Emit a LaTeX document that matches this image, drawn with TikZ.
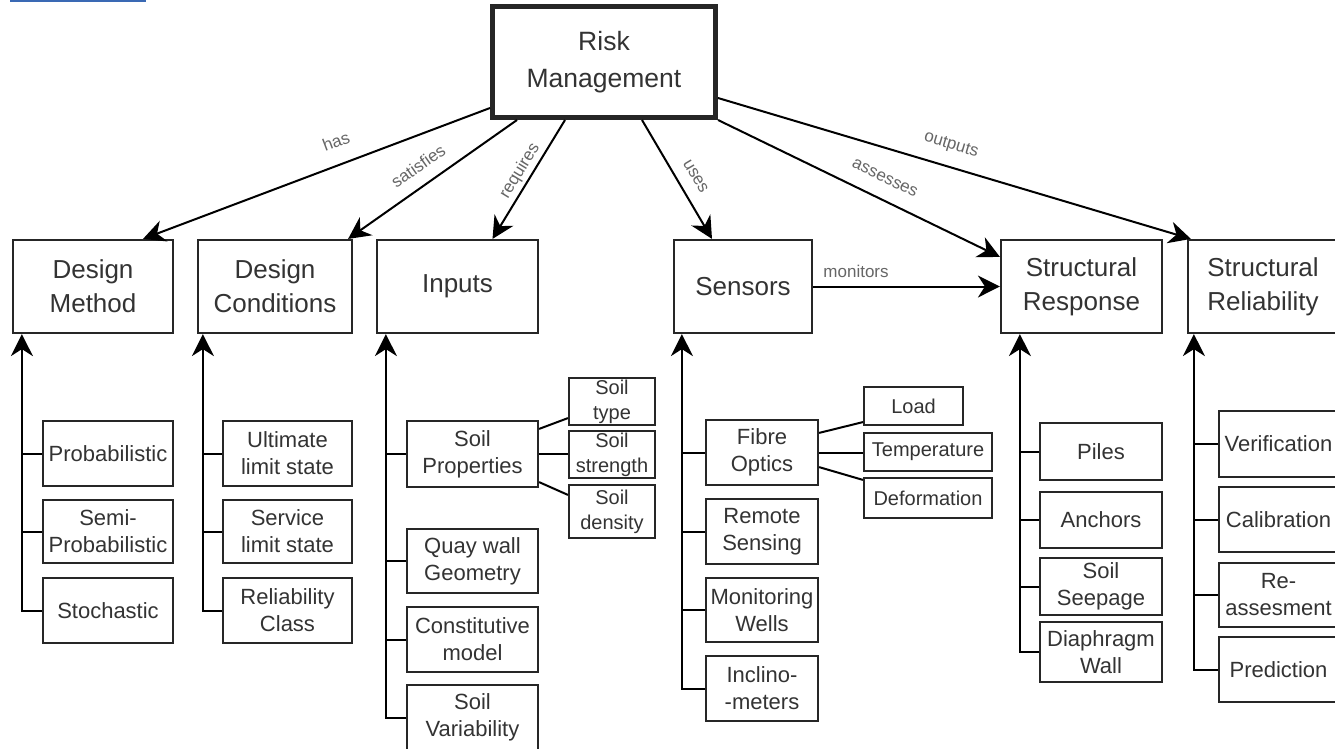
\documentclass[tikz,border=0pt]{standalone}
\usepackage{fontspec}
\setmainfont{Liberation Sans}
\usetikzlibrary{arrows.meta,calc}
\tikzset{
  box/.style={draw=black!85, line width=2.2pt, fill=white, inner sep=0pt, align=center, text=black!80},
  lvl/.style={box, font=\fontsize{26}{34}\selectfont, minimum height=93pt},
  kid/.style={box, font=\fontsize{22}{27}\selectfont},
  leaf/.style={box, font=\fontsize{20}{25}\selectfont},
  conn/.style={line width=2pt, draw=black},
  arr/.style={conn, -{Stealth[length=22pt,width=22pt,inset=7pt]}},
  arrR/.style={conn, {Stealth[length=22pt,width=22pt,inset=7pt]}-},
  lbl/.style={font=\fontsize{17}{17}\selectfont, text=black!60, sloped, inner sep=1pt}
}
\begin{document}
\begin{tikzpicture}[x=1pt,y=-1pt]
\useasboundingbox (0,0) rectangle (1335,748);
\fill[white] (0,0) rectangle (1335,748);
\draw[line width=1.5pt, draw={rgb,255:red,58;green,105;blue,180}] (10,0.8) -- (146,0.8);

% root
\node[box, line width=5pt, font=\fontsize{26.5}{37}\selectfont, minimum width=223pt, minimum height=111pt] (root) at (604,62) {Risk\\Management};

% level 1
\node[lvl, minimum width=160pt] (dm) at (93,286.5) {Design\\Method};
\node[lvl, minimum width=154pt] (dc) at (275,286.5) {Design\\Conditions};
\node[lvl, minimum width=161pt] (inp) at (457.5,286.5) {Inputs};
\node[lvl, minimum width=138pt] (sen) at (743,286.5) {Sensors};
\node[lvl, minimum width=161pt] (sr) at (1081.5,286.5) {Structural\\Response};
\node[lvl, minimum width=150pt] (srel) at (1263,286.5) {Structural\\Reliability};

% Design Method children
\node[kid, minimum width=130pt, minimum height=65pt] (pr) at (108,453.5) {Probabilistic};
\node[kid, minimum width=130pt, minimum height=63pt] (sp1) at (108,531.5) {Semi-\\Probabilistic};
\node[kid, minimum width=130pt, minimum height=65pt] (sto) at (108,610.5) {Stochastic};

% Design Conditions children
\node[kid, minimum width=129pt, minimum height=65pt] (uls) at (287.5,453.5) {Ultimate\\limit state};
\node[kid, minimum width=129pt, minimum height=63pt] (sls) at (287.5,531.5) {Service\\limit state};
\node[kid, minimum width=129pt, minimum height=65pt] (rc) at (287.5,610.5) {Reliability\\Class};

% Inputs children
\node[kid, minimum width=131pt, minimum height=66pt] (sprop) at (472.5,454) {Soil\\Properties};
\node[kid, minimum width=131pt, minimum height=64pt] (quay) at (472.5,561) {Quay wall\\Geometry};
\node[kid, minimum width=131pt, minimum height=65pt] (cons) at (472.5,639.5) {Constitutive\\model};
\node[kid, minimum width=131pt, minimum height=65pt] (svar) at (472.5,717.5) {Soil\\Variability};

\node[leaf, minimum width=86pt, minimum height=47pt] (sty) at (612,401.5) {Soil\\type};
\node[leaf, minimum width=86pt, minimum height=47pt] (sst) at (612,454.5) {Soil\\strength};
\node[leaf, minimum width=86pt, minimum height=53pt] (sde) at (612,511.5) {Soil\\density};

% Sensors children
\node[kid, minimum width=112pt, minimum height=65pt] (fo) at (762,452.5) {Fibre\\Optics};
\node[kid, minimum width=112pt, minimum height=65pt] (rs) at (762,531.5) {Remote\\Sensing};
\node[kid, minimum width=112pt, minimum height=64pt] (mw) at (762,610) {Monitoring\\Wells};
\node[kid, minimum width=112pt, minimum height=65pt] (inc) at (762,688.5) {Inclino-\\-meters};

\node[leaf, minimum width=99pt, minimum height=38pt] (load) at (913.5,406) {Load};
\node[leaf, minimum width=128pt, minimum height=38pt] (tmp) at (928,452) {Temperature};
\node[leaf, minimum width=128pt, minimum height=40pt] (def) at (928,498) {Deformation};

% Structural Response children
\node[kid, minimum width=122pt, minimum height=57pt] (pil) at (1101,451.5) {Piles};
\node[kid, minimum width=122pt, minimum height=56pt] (anc) at (1101,520) {Anchors};
\node[kid, minimum width=122pt, minimum height=57pt] (see) at (1101,586.5) {Soil\\Seepage};
\node[kid, minimum width=122pt, minimum height=60pt] (dia) at (1101,652) {Diaphragm\\Wall};

% Structural Reliability children
\node[kid, minimum width=119pt, minimum height=66pt] (ver) at (1278.5,444) {Verification};
\node[kid, minimum width=119pt, minimum height=65pt] (cal) at (1278.5,519.5) {Calibration};
\node[kid, minimum width=119pt, minimum height=64pt] (rea) at (1278.5,595) {Re-\\assesment};
\node[kid, minimum width=119pt, minimum height=65pt] (pre) at (1278.5,669.5) {Prediction};

% trunk coordinates
\coordinate (tdm) at ($(dm.south west)+(10,0)$);
\coordinate (tdc) at ($(dc.south west)+(6,0)$);
\coordinate (tin) at ($(inp.south west)+(10,0)$);
\coordinate (tse) at ($(sen.south west)+(9,0)$);
\coordinate (tsr) at ($(sr.south west)+(20,0)$);
\coordinate (tsl) at ($(srel.south west)+(7,0)$);

% trunks and branches
\draw[arr] (sto.west) -| (tdm);
\draw[conn] (pr.west) -- (pr.west -| tdm);
\draw[conn] (sp1.west) -- (sp1.west -| tdm);

\draw[arr] (rc.west) -| (tdc);
\draw[conn] (uls.west) -- (uls.west -| tdc);
\draw[conn] (sls.west) -- (sls.west -| tdc);

\draw[arr] (svar.west) -| (tin);
\draw[conn] (sprop.west) -- (sprop.west -| tin);
\draw[conn] (quay.west) -- (quay.west -| tin);
\draw[conn] (cons.west) -- (cons.west -| tin);

\draw[arr] (inc.west) -| (tse);
\draw[conn] (fo.west) -- (fo.west -| tse);
\draw[conn] (rs.west) -- (rs.west -| tse);
\draw[conn] (mw.west) -- (mw.west -| tse);

\draw[arr] (dia.west) -| (tsr);
\draw[conn] (pil.west) -- (pil.west -| tsr);
\draw[conn] (anc.west) -- (anc.west -| tsr);
\draw[conn] (see.west) -- (see.west -| tsr);

\draw[arr] (pre.west) -| (tsl);
\draw[conn] (ver.west) -- (ver.west -| tsl);
\draw[conn] (cal.west) -- (cal.west -| tsl);
\draw[conn] (rea.west) -- (rea.west -| tsl);

% soil property leaves
\draw[conn] ([yshift=-9pt]sprop.north east) -- ([yshift=8pt]sty.south west);
\draw[conn] (sprop.east) -- (sprop.east -| sst.west);
\draw[conn] ([yshift=6pt]sprop.south east) -- ([yshift=-11pt]sde.north west);

% fibre optic leaves
\draw[conn] ([yshift=-14pt]fo.north east) -- ([yshift=4pt]load.south west);
\draw[conn] (fo.east) -- (fo.east -| tmp.west);
\draw[conn] ([yshift=19pt]fo.south east) -- ([yshift=-3pt]def.north west);

% top connectors
\draw[arrR] ([xshift=50pt]dm.north) -- node[lbl, pos=0.58, above=15pt] (lhas) {has} ([yshift=12pt]root.south west);
\draw[arrR] ([xshift=-5pt]dc.north east) -- node[lbl, pos=0.48, above=11pt] (lsat) {satisfies} ([xshift=27pt]root.south west);
\draw[arrR] ([xshift=35pt]inp.north) -- node[lbl, pos=0.52, above=2pt] (lreq) {requires} ([xshift=75pt]root.south west);
\draw[arr] ([xshift=-76pt]root.south east) -- node[lbl, pos=0.55, above=11pt] (luse) {uses} ([xshift=-31pt]sen.north);
\draw[arr] (root.south east) -- node[lbl, pos=0.56, above=14pt] (lass) {assesses} ([yshift=-18pt]sr.north west);
\draw[arr] ([yshift=22pt]root.south east) -- node[lbl, pos=0.48, above=12pt] (lout) {outputs} ([xshift=4pt]srel.north west);
\draw[arr] (sen.east) -- node[lbl, pos=0.23, above=7pt] (lmon) {monitors} (sr.west);
\end{tikzpicture}
\end{document}
